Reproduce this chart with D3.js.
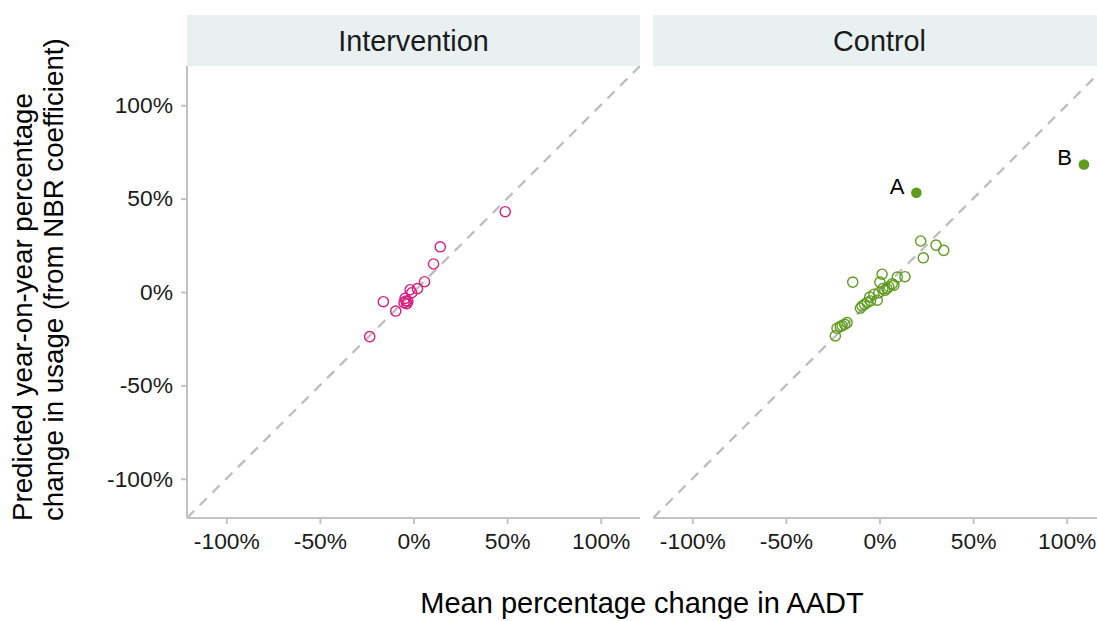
<!DOCTYPE html>
<html><head><meta charset="utf-8">
<script src="https://cdn.jsdelivr.net/npm/d3@7"></script>
<style>body{margin:0;background:#fff}svg{display:block}text{font-family:"Liberation Sans",Arial,sans-serif}</style>
</head><body>
<script>
// ---- data ----
const panels = ["Intervention", "Control"];
const ticks = [-100, -50, 0, 50, 100];
const interventionX = [49, 14.3, 10.7, 5.9, 2.1, -0.9, -1.8, -4.5, -3.6, -5, -3, -4, -16.1, -9.5, -23.4];
const interventionY = [43, 24.2, 15, 5.5, 1.8, -0.4, 1.2, -3.4, -6.2, -5.7, -5, -4.8, -5.2, -10.2, -23.9];
const controlX = [22, 30.2, 34.3, 23.4, -14.3, 1.4, 13.6, 9.5, 0.2, 6.8, 7.7, 5, 2.8, 4, 1.8, -0.4, -3, -1.2, -5.2, -4.8, -6.6, -9.3, -8, -10.2, -17.3, -18.6, -20, -22.7, -23.6, -21];
const controlY = [27.3, 25.1, 22.3, 18.3, 5.3, 9.5, 8.2, 8, 5.3, 4.4, 3.7, 2.8, 0.9, 1.8, 1.8, -0.4, -1.2, -4.4, -2.7, -4.8, -5.7, -7.5, -6.6, -8.7, -16.4, -17.3, -18, -19.4, -23.5, -18.5];
const outlierLabels = ["A", "B"];
const outlierX = [19.7, 109.2];
const outlierY = [53.1, 68.3];

const W = 1097, H = 621;
const svg = d3.select("body").append("svg").attr("width", W).attr("height", H);
const domain = [-121, 121];
const y = d3.scaleLinear().domain(domain).range([518, 66]);
const panelX = [[187, 640], [653, 1106]];
const colors = ["#d81b7f", "#5f9b1e"];
const axisGrey = "#c2c2c2";
const fmt = d => d + "%";

const seriesX = [interventionX, controlX];
const seriesY = [interventionY, controlY];

panels.forEach((name, i) => {
  const [x0, x1] = panelX[i];
  const x = d3.scaleLinear().domain(domain).range([x0, x1]);
  const g = svg.append("g");
  // strip
  g.append("rect").attr("x", x0).attr("y", 15).attr("width", x1 - x0).attr("height", 51).attr("fill", "#e8f0f2");
  g.append("text").attr("x", (x0 + x1) / 2).attr("y", 51).attr("text-anchor", "middle")
    .attr("font-size", 28.8).attr("fill", "#1a1a1a").text(name);
  // clip
  const cid = "clip" + i;
  svg.append("clipPath").attr("id", cid).append("rect").attr("x", x0).attr("y", 66).attr("width", x1 - x0).attr("height", 452);
  const pg = g.append("g").attr("clip-path", `url(#${cid})`);
  // diagonal
  pg.append("line").attr("x1", x(domain[0])).attr("y1", y(domain[0])).attr("x2", x(domain[1])).attr("y2", y(domain[1]))
    .attr("stroke", "#bdbdbd").attr("stroke-width", 2.3).attr("stroke-dasharray", "10,8");
  // points
  const pts = seriesX[i].map((v, k) => [v, seriesY[i][k]]);
  pg.selectAll("circle.p").data(pts).enter().append("circle")
    .attr("cx", d => x(d[0])).attr("cy", d => y(d[1])).attr("r", 5.1)
    .attr("fill", "none").attr("stroke", colors[i]).attr("stroke-width", 1.4);
  if (i === 1) {
    const op = outlierX.map((v, k) => [v, outlierY[k], outlierLabels[k]]);
    pg.selectAll("circle.o").data(op).enter().append("circle")
      .attr("cx", d => x(d[0])).attr("cy", d => y(d[1])).attr("r", 5.3)
      .attr("fill", colors[i]);
    g.selectAll("text.o").data(op).enter().append("text")
      .attr("x", d => x(d[0]) - 12).attr("y", d => y(d[1]) + 1).attr("text-anchor", "end")
      .attr("font-size", 22).attr("fill", "#000").text(d => d[2]);
  }
  // x axis
  const xa = g.append("g").attr("transform", "translate(0,518)")
    .call(d3.axisBottom(x).tickValues(ticks).tickFormat(fmt).tickSize(6).tickPadding(9));
  xa.select(".domain").remove();
  xa.append("line").attr("x1", x0).attr("x2", Math.min(x1, W)).attr("y1", 0).attr("y2", 0).attr("stroke", axisGrey).attr("stroke-width", 2);
  xa.selectAll(".tick line").attr("stroke", axisGrey).attr("stroke-width", 2);
  xa.selectAll(".tick text").attr("font-size", 22.8).attr("fill", "#1a1a1a").attr("font-family", "Liberation Sans, Arial, sans-serif");
  if (i === 0) {
    const ya = g.append("g").attr("transform", `translate(${x0},0)`)
      .call(d3.axisLeft(y).tickValues(ticks).tickFormat(fmt).tickSize(6).tickPadding(8));
    ya.select(".domain").remove();
    ya.append("line").attr("x1", 0).attr("x2", 0).attr("y1", 66).attr("y2", 518).attr("stroke", axisGrey).attr("stroke-width", 2);
    ya.selectAll(".tick line").attr("stroke", axisGrey).attr("stroke-width", 2);
    ya.selectAll(".tick text").attr("font-size", 22.8).attr("fill", "#1a1a1a").attr("font-family", "Liberation Sans, Arial, sans-serif");
  }
});

// axis titles
svg.append("text").attr("x", 642).attr("y", 613).attr("text-anchor", "middle")
  .attr("font-size", 29).attr("fill", "#000").text("Mean percentage change in AADT");
const yt = svg.append("g");
yt.append("text").attr("transform", "translate(32,521) rotate(-90)").attr("text-anchor", "start")
  .attr("font-size", 27.7).attr("fill", "#000").text("Predicted year-on-year percentage");
yt.append("text").attr("transform", "translate(63,521) rotate(-90)").attr("text-anchor", "start")
  .attr("font-size", 27.7).attr("fill", "#000").text("change in usage (from NBR coefficient)");
</script>
</body></html>
